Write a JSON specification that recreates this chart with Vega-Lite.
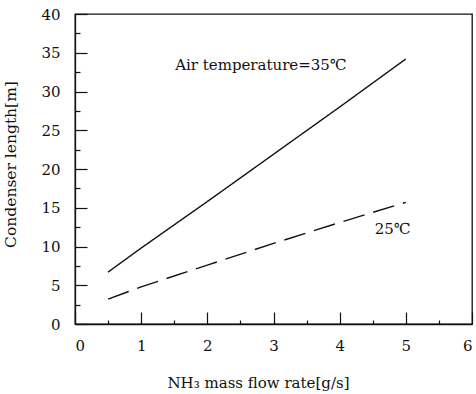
{
  "$schema": "https://vega.github.io/schema/vega-lite/v6.json",
  "width": 397,
  "height": 310,
  "autosize": {"type": "none"},
  "padding": {"left": 75, "top": 14, "right": 4, "bottom": 70},
  "background": "white",
  "config": {
    "view": {"stroke": "#111", "strokeWidth": 1.3},
    "font": "DejaVu Serif",
    "axis": {
      "grid": false,
      "domainColor": "#111",
      "domainWidth": 1.3,
      "tickColor": "#111",
      "tickWidth": 1.2,
      "labelFont": "DejaVu Serif",
      "labelFontSize": 15,
      "labelColor": "#111",
      "titleFont": "DejaVu Serif",
      "titleFontSize": 15,
      "titleFontWeight": "normal",
      "titleColor": "#111"
    }
  },
  "datasets": {
    "curves": [
      {"flow": 0.5, "length": 6.7, "air": "35"},
      {"flow": 1, "length": 9.8, "air": "35"},
      {"flow": 2, "length": 15.8, "air": "35"},
      {"flow": 3, "length": 21.9, "air": "35"},
      {"flow": 4, "length": 28.0, "air": "35"},
      {"flow": 5, "length": 34.2, "air": "35"},
      {"flow": 0.5, "length": 3.2, "air": "25"},
      {"flow": 1, "length": 4.8, "air": "25"},
      {"flow": 2, "length": 7.6, "air": "25"},
      {"flow": 3, "length": 10.4, "air": "25"},
      {"flow": 4, "length": 13.1, "air": "25"},
      {"flow": 5, "length": 15.7, "air": "25"}
    ],
    "notes": [
      {"flow": 2.81, "length": 33.4, "text": "Air temperature=35℃"},
      {"flow": 4.8, "length": 12.3, "text": "25℃"}
    ]
  },
  "encoding": {
    "x": {
      "field": "flow",
      "type": "quantitative",
      "scale": {"domain": [0, 6], "nice": false},
      "axis": {
        "title": "NH₃ mass flow rate[g/s]",
        "titlePadding": 14,
        "titleX": 183,
        "values": [0, 0.5, 1, 1.5, 2, 2.5, 3, 3.5, 4, 4.5, 5, 5.5, 6],
        "labelOverlap": false,
        "labelExpr": "datum.value % 1 === 0 ? format(datum.value, 'd') : ''",
        "tickSize": {"condition": {"test": "datum.value % 1 === 0", "value": -12}, "value": -4},
        "labelPadding": 26
      }
    },
    "y": {
      "field": "length",
      "type": "quantitative",
      "scale": {"domain": [0, 40], "nice": false},
      "axis": {
        "title": "Condenser length[m]",
        "titleFontSize": 15.5,
        "titlePadding": 22,
        "titleY": 150,
        "values": [0, 2.5, 5, 7.5, 10, 12.5, 15, 17.5, 20, 22.5, 25, 27.5, 30, 32.5, 35, 37.5, 40],
        "labelOverlap": false,
        "labelExpr": "datum.value % 5 === 0 ? format(datum.value, 'd') : ''",
        "tickSize": {"condition": {"test": "datum.value % 5 === 0", "value": -12}, "value": -5},
        "labelPadding": 27
      }
    }
  },
  "layer": [
    {
      "data": {"name": "curves"},
      "mark": {"type": "line", "color": "#111", "strokeWidth": 1.4},
      "encoding": {
        "strokeDash": {
          "field": "air",
          "type": "nominal",
          "scale": {"domain": ["35", "25"], "range": [[1, 0], [22, 9]]},
          "legend": null
        }
      }
    },
    {
      "data": {"name": "notes"},
      "mark": {"type": "text", "font": "DejaVu Serif", "fontSize": 15, "color": "#111"},
      "encoding": {
        "text": {"field": "text"}
      }
    }
  ]
}
